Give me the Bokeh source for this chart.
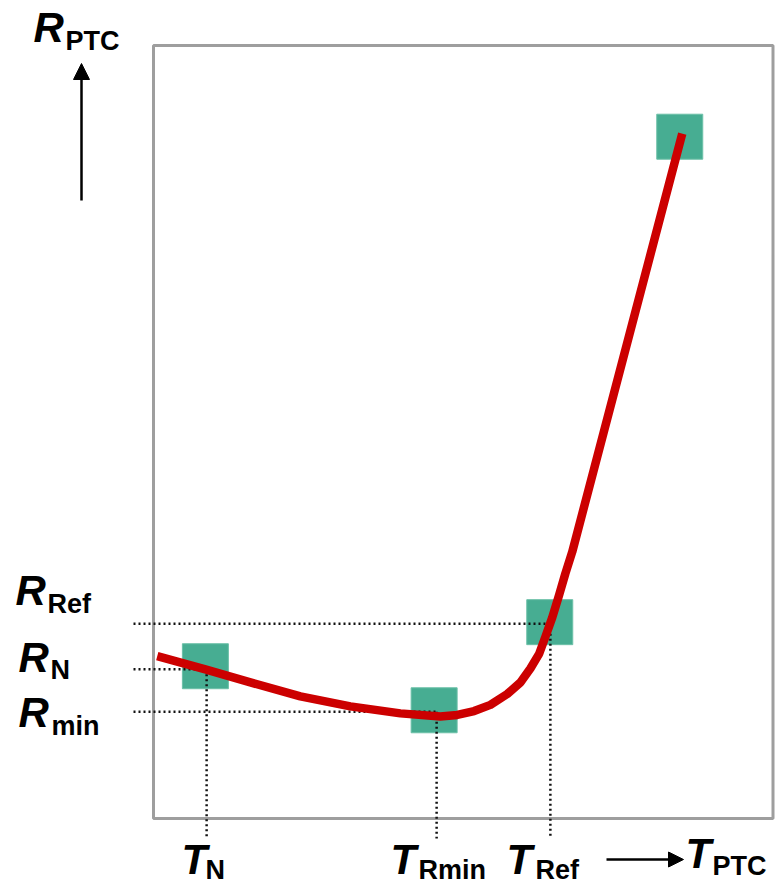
from bokeh.plotting import figure
from bokeh.models import Range1d, Label, Arrow, NormalHead
from bokeh.embed import file_html
from bokeh.resources import INLINE

# ---- data (arbitrary units: temperature T, resistance R) ----
axis_T = [0, 100]
axis_R = [0, 100]

curve_T = [0.6, 8.3, 15.5, 23.5, 31.5, 39.5, 45.9, 48.6, 51.3, 53.9, 56.6, 58.7,
           60.3, 61.7, 62.7, 63.8, 64.9, 65.9, 67.0, 84.6]
curve_R = [21.0, 19.3, 17.6, 15.8, 14.5, 13.6, 13.2, 13.4, 13.9, 14.7, 16.1, 17.6,
           19.4, 21.3, 23.5, 26.0, 28.9, 31.7, 34.5, 88.6]

marker_T = [8.3, 44.9, 63.4, 84.2]
marker_R = [19.7, 14.0, 25.4, 88.2]

ref_names = ["N", "min", "Ref"]
ref_T = [8.5, 45.3, 63.5]
ref_R = [19.3, 13.8, 25.2]
T_sub = ["N", "Rmin", "Ref"]

# ---- layout helpers (picture pixel -> data) ----
def dx(px):
    return (px - 153) / 6.25

def dy(py):
    return (818 - py) / 7.73

W, H = 775, 886
p = figure(width=W, height=H, output_backend="svg", toolbar_location=None,
           x_axis_type=None, y_axis_type=None,
           x_range=Range1d(dx(0), dx(W)), y_range=Range1d(dy(H), dy(0)),
           min_border=0, outline_line_color=None)
p.background_fill_color = "white"
p.border_fill_color = "white"

# frame box (right edge pulled slightly inside the canvas)
p.quad(left=axis_T[0], right=min(axis_T[1], dx(W - 2.5)), bottom=axis_R[0], top=axis_R[1],
       fill_color=None, line_color="#9e9e9e", line_width=3)

# green squares
p.rect(x=marker_T, y=marker_R, width=46, height=45, width_units="screen",
       height_units="screen", fill_color="#47ad92", line_color="#6cc0a8", line_width=1)

# dotted reference lines
x_left = dx(133)
y_bottom = dy(838)
p.segment(x0=[x_left] * 3, y0=ref_R, x1=ref_T, y1=ref_R,
          line_color="#111111", line_width=2.5, line_dash="2 3")
p.segment(x0=ref_T, y0=ref_R, x1=ref_T, y1=[y_bottom] * 3,
          line_color="#111111", line_width=2.5, line_dash="2 3")

# red curve
p.line(curve_T, curve_R, line_color="#cc0000", line_width=8.5, line_join="round", line_cap="butt")

FONT = "Liberation Sans"
MAIN = 42
SUB = 27
SHIFT = 0.36  # label box offset compensation (fraction of font size)

def lab(x, y, text, size, style):
    p.add_layout(Label(x=dx(x), y=dy(y - SHIFT * size), text=text, text_font=FONT,
                       text_font_size=f"{size}px", text_font_style=style,
                       text_color="black", text_align="left", text_baseline="alphabetic"))

# R axis title
lab(33, 42, "R", MAIN, "bold italic")
lab(65, 50, "PTC", SUB, "bold")
# left R labels
r_lab_pos = {"Ref": (15, 605, 47, 613), "N": (18, 672, 50, 679), "min": (18, 727, 51, 735)}
for name in ref_names:
    rx, ry, sx, sy = r_lab_pos[name]
    lab(rx, ry, "R", MAIN, "bold italic")
    lab(sx, sy, name, SUB, "bold")
# bottom T labels
t_lab_pos = {"N": (181, 874, 205, 879), "Rmin": (390, 874, 418, 879), "Ref": (506, 874, 535, 879)}
for name in T_sub:
    tx, ty, sx, sy = t_lab_pos[name]
    lab(tx, ty, "T", MAIN, "bold italic")
    lab(sx, sy, name, SUB, "bold")
# T axis title
lab(685, 868, "T", MAIN, "bold italic")
lab(712, 875, "PTC", SUB, "bold")

# arrows
p.add_layout(Arrow(x_start=dx(606), y_start=dy(859), x_end=dx(683), y_end=dy(859),
                   line_color="black", line_width=2.5,
                   end=NormalHead(size=15, fill_color="black", line_color="black")))
p.add_layout(Arrow(x_start=dx(81), y_start=dy(200), x_end=dx(81), y_end=dy(63),
                   line_color="black", line_width=2.5,
                   end=NormalHead(size=16, fill_color="black", line_color="black")))

open("out.html", "w").write(file_html(p, INLINE))
